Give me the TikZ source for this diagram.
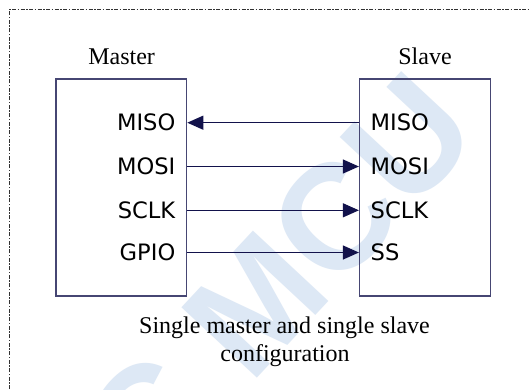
\documentclass[tikz,border=0pt]{standalone}
\usepackage{fontspec}
\setmainfont{Liberation Serif}
\newfontfamily\portfont{DejaVu Sans}
\newfontfamily\wmfont{Liberation Sans}
\usetikzlibrary{arrows.meta}
\definecolor{boxline}{RGB}{70,70,115}
\definecolor{arrowcol}{RGB}{18,18,75}
\definecolor{wmblue}{RGB}{221,232,245}
\definecolor{borderc}{RGB}{50,50,50}
\tikzset{
  chip/.style={draw=boxline, line width=1.2bp, inner sep=0, minimum width=130.7bp, minimum height=217bp},
  port/.style={inner sep=0, font=\portfont\fontsize{22.6bp}{27bp}\selectfont},
  title/.style={inner sep=0, font=\fontsize{24bp}{29bp}\selectfont},
  sig/.style={draw=arrowcol, line width=1.1bp, -{Triangle[length=16bp,width=14bp]}},
  frame/.style={draw=borderc, line width=0.9bp, dash pattern=on 4bp off 1.5bp on 1.5bp off 1.5bp},
  watermark/.style={inner sep=0, text=wmblue, font=\wmfont\bfseries\fontsize{150bp}{150bp}\selectfont}
}
\begin{document}
\begin{tikzpicture}[x=1bp,y=-1bp]
\useasboundingbox (0,0) rectangle (529,389);
\clip (0,0) rectangle (529,389);
\fill[white] (0,0) rectangle (529,389);
% watermark
\node[watermark, rotate=47] (wm) at (213,350) {STC MCU};
% frame
\draw[frame] (9,389) -- (9,9.5) -- (529,9.5);
% chips
\node[chip] (master) at (121.35,187.5) {};
\node[chip] (slave) at (424.85,187.5) {};
\node[title, anchor=base] (mtitle) at (121.6,64.5) {Master};
\node[title, anchor=base] (stitle) at (425,64.5) {Slave};
% rows
\coordinate (r1) at (0,122.7);
\coordinate (r2) at (0,166.5);
\coordinate (r3) at (0,210.3);
\coordinate (r4) at (0,252.5);
% master ports
\node[port, anchor=base east] (mmiso) at (175.5,130.8) {MISO};
\node[port, anchor=base east] (mmosi) at (175.5,174.6) {MOSI};
\node[port, anchor=base east] (msclk) at (175.5,218.4) {SCLK};
\node[port, anchor=base east] (mgpio) at (175.5,260.6) {GPIO};
% slave ports
\node[port, anchor=base west] (smiso) at (370.5,130.8) {MISO};
\node[port, anchor=base west] (smosi) at (370.5,174.6) {MOSI};
\node[port, anchor=base west] (ssclk) at (370.5,218.4) {SCLK};
\node[port, anchor=base west] (sss) at (370.5,260.6) {SS};
% connectors
\draw[sig] (slave.west |- r1) -- (master.east |- r1);
\draw[sig] (master.east |- r2) -- (slave.west |- r2);
\draw[sig] (master.east |- r3) -- (slave.west |- r3);
\draw[sig] (master.east |- r4) -- (slave.west |- r4);
% caption
\node[title, anchor=base] (cap1) at (284.5,333.3) {Single master and single slave};
\node[title, anchor=base] (cap2) at (285,361.7) {configuration};
\end{tikzpicture}
\end{document}
